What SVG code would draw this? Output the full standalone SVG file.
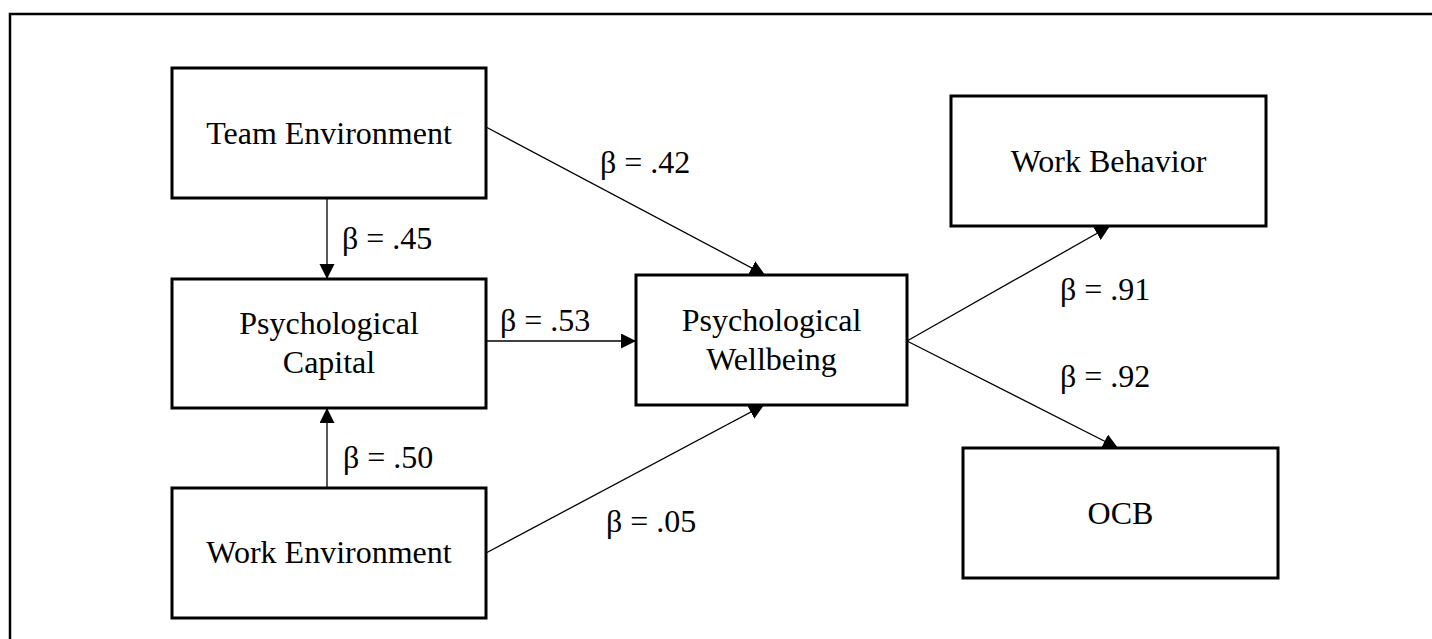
<svg xmlns="http://www.w3.org/2000/svg" width="1432" height="639" viewBox="0 0 1432 639">
<style>
.box{fill:#fff;stroke:#000;stroke-width:3}
.lbl{font-family:"Liberation Serif","Times New Roman",serif;font-size:32px;fill:#000}
.mid{text-anchor:middle}
.con{stroke:#000;stroke-width:1.3;fill:none;marker-end:url(#ah)}
</style>
<defs>
<marker id="ah" markerUnits="userSpaceOnUse" markerWidth="16" markerHeight="16" refX="15" refY="7.5" orient="auto">
<path d="M0,0 L15,7.5 L0,15 z" fill="#000"/>
</marker>
</defs>
<rect width="1432" height="639" fill="#fff"/>
<path d="M10,640 V14 H1433" fill="none" stroke="#000" stroke-width="2.5"/>
<g id="connectors">
<line class="con" x1="327" y1="198" x2="327" y2="279"/>
<line class="con" x1="327" y1="488" x2="327" y2="408"/>
<line class="con" x1="486" y1="341" x2="636" y2="341"/>
<line class="con" x1="486" y1="127" x2="765" y2="275"/>
<line class="con" x1="486" y1="553" x2="764" y2="405"/>
<line class="con" x1="907" y1="341" x2="1110" y2="226"/>
<line class="con" x1="907" y1="341" x2="1118" y2="448"/>
</g>
<g id="labels">
<text class="lbl" x="600" y="173">β = .42</text>
<text class="lbl" x="342" y="249">β = .45</text>
<text class="lbl" x="500" y="331">β = .53</text>
<text class="lbl" x="343" y="468">β = .50</text>
<text class="lbl" x="606" y="532">β = .05</text>
<text class="lbl" x="1060" y="300">β = .91</text>
<text class="lbl" x="1060" y="387">β = .92</text>
</g>
<g id="team-environment">
<rect class="box" x="172" y="68" width="314" height="130"/>
<text class="lbl mid" x="329" y="144">Team Environment</text>
</g>
<g id="psychological-capital">
<rect class="box" x="172" y="279" width="314" height="129"/>
<text class="lbl mid" x="329" y="334">Psychological</text>
<text class="lbl mid" x="329" y="373">Capital</text>
</g>
<g id="work-environment">
<rect class="box" x="172" y="488" width="314" height="130"/>
<text class="lbl mid" x="329" y="563">Work Environment</text>
</g>
<g id="psychological-wellbeing">
<rect class="box" x="636" y="275" width="271" height="130"/>
<text class="lbl mid" x="771.5" y="331">Psychological</text>
<text class="lbl mid" x="771.5" y="370">Wellbeing</text>
</g>
<g id="work-behavior">
<rect class="box" x="951" y="96" width="315" height="130"/>
<text class="lbl mid" x="1108.5" y="172">Work Behavior</text>
</g>
<g id="ocb">
<rect class="box" x="963" y="448" width="315" height="130"/>
<text class="lbl mid" x="1120.5" y="524">OCB</text>
</g>
</svg>
